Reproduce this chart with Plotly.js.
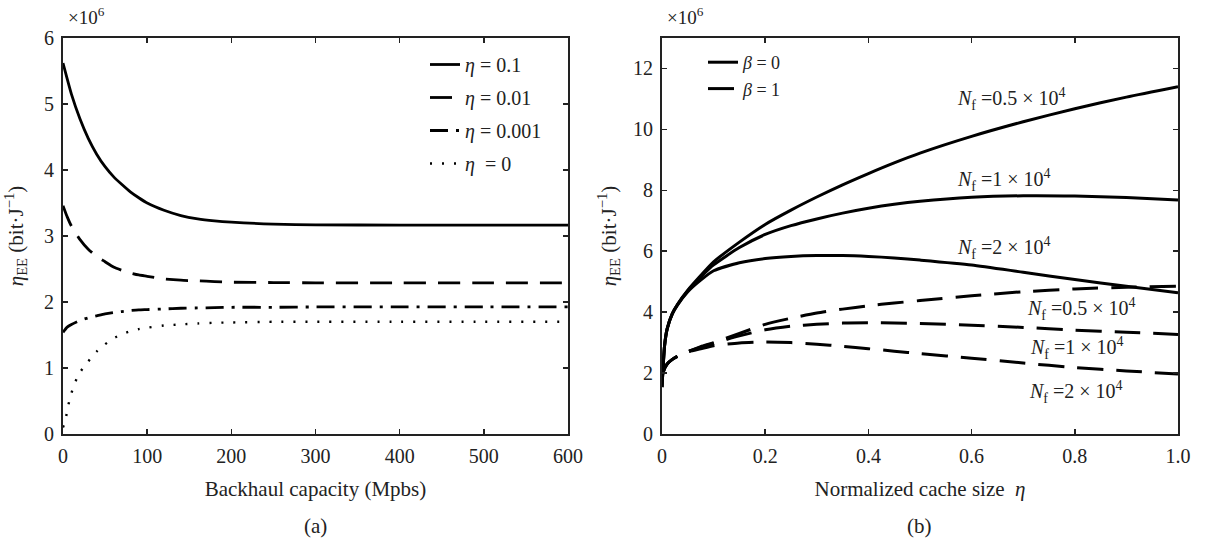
<!DOCTYPE html>
<html>
<head>
<meta charset="utf-8">
<script src="https://cdn.plot.ly/plotly-3.0.1.min.js"></script>
<style>html,body{margin:0;padding:0;background:#fff;}#chart{width:1205px;height:543px;}</style>
</head>
<body>
<div id="chart"></div>
<script>
// ---- Panel (a): energy efficiency vs backhaul capacity ----
const capA = [0, 5, 10, 20, 30, 40, 50, 60, 70, 80, 90, 100, 120, 140, 160, 180, 200, 250, 300, 400, 500, 600];
const eeEta01   = [5.62, 5.38, 5.15, 4.78, 4.48, 4.24, 4.05, 3.90, 3.78, 3.67, 3.58, 3.50, 3.39, 3.31, 3.26, 3.23, 3.21, 3.18, 3.17, 3.165, 3.165, 3.165];
const eeEta001  = [3.46, 3.29, 3.15, 2.95, 2.80, 2.69, 2.61, 2.53, 2.48, 2.44, 2.41, 2.39, 2.35, 2.33, 2.32, 2.31, 2.30, 2.295, 2.29, 2.29, 2.29, 2.29];
const eeEta0001 = [1.54, 1.62, 1.66, 1.72, 1.76, 1.79, 1.82, 1.84, 1.855, 1.87, 1.88, 1.885, 1.895, 1.905, 1.91, 1.915, 1.92, 1.92, 1.925, 1.925, 1.925, 1.925];
const capA0 = [0, 3, 6, 10, 15, 20, 30, 40, 50, 60, 70, 80, 90, 100, 120, 140, 160, 180, 200, 250, 300, 400, 500, 600];
const eeEta0    = [0.10, 0.22, 0.42, 0.62, 0.80, 0.93, 1.10, 1.25, 1.36, 1.45, 1.51, 1.56, 1.59, 1.61, 1.645, 1.66, 1.675, 1.685, 1.69, 1.70, 1.70, 1.70, 1.70, 1.70];
const namesA = ['<i>η</i> = 0.1', '<i>η</i> = 0.01', '<i>η</i> = 0.001', '<i>η</i>  = 0'];
const ticksAx = [0, 100, 200, 300, 400, 500, 600];
const ticksAy = [0, 1, 2, 3, 4, 5, 6];

// ---- Panel (b): energy efficiency vs normalized cache size ----
const cacheB = [0, 0.005, 0.01, 0.02, 0.03, 0.05, 0.075, 0.1, 0.15, 0.2, 0.25, 0.3, 0.35, 0.4, 0.45, 0.5, 0.6, 0.7, 0.8, 0.9, 1.0];
const b0Nf05 = [1.54, 2.9, 3.45, 3.95, 4.25, 4.72, 5.2, 5.65, 6.3, 6.88, 7.35, 7.78, 8.18, 8.55, 8.9, 9.22, 9.77, 10.25, 10.68, 11.06, 11.4];
const b0Nf1  = [1.54, 2.9, 3.45, 3.95, 4.25, 4.7, 5.15, 5.55, 6.12, 6.55, 6.84, 7.06, 7.25, 7.41, 7.54, 7.64, 7.77, 7.82, 7.81, 7.76, 7.68];
const b0Nf2  = [1.54, 2.9, 3.45, 3.94, 4.23, 4.67, 5.05, 5.36, 5.62, 5.76, 5.83, 5.86, 5.86, 5.83, 5.78, 5.71, 5.55, 5.31, 5.07, 4.85, 4.64];
const b1Nf05 = [1.9, 2.15, 2.3, 2.45, 2.55, 2.7, 2.87, 3.0, 3.3, 3.6, 3.8, 3.97, 4.1, 4.21, 4.3, 4.38, 4.54, 4.67, 4.76, 4.82, 4.85];
const b1Nf1  = [1.9, 2.15, 2.3, 2.45, 2.55, 2.7, 2.85, 2.98, 3.22, 3.42, 3.54, 3.6, 3.64, 3.65, 3.645, 3.63, 3.57, 3.5, 3.41, 3.34, 3.27];
const b1Nf2  = [1.9, 2.15, 2.3, 2.45, 2.55, 2.7, 2.8, 2.9, 2.99, 3.02, 3.0, 2.95, 2.88, 2.8, 2.72, 2.64, 2.49, 2.33, 2.18, 2.07, 1.97];
const namesB = ['<i>β</i> = 0', '<i>β</i> = 1'];
const ticksBx = [0, 0.2, 0.4, 0.6, 0.8, 1.0];
const tickTextBx = ['0', '0.2', '0.4', '0.6', '0.8', '1.0'];
const ticksBy = [0, 2, 4, 6, 8, 10, 12];
const nfLabels = ['<i>N</i><sub>f</sub> =0.5 × 10<sup>4</sup>', '<i>N</i><sub>f</sub> =1 × 10<sup>4</sup>', '<i>N</i><sub>f</sub> =2 × 10<sup>4</sup>'];
const nfLabelX = [0.568, 0.568, 0.568, 0.703, 0.71, 0.707];
const nfLabelY = [11.0, 8.33, 6.1, 4.12, 2.83, 1.38];

const INK = '#222';
const FONT = 'Liberation Serif';

function lineTrace(x, y, xa, ya, name, dash, width, legend, show, group) {
  return {x: x, y: y, xaxis: xa, yaxis: ya, name: name, type: 'scatter', mode: 'lines',
    line: {color: '#000', width: width, dash: dash, shape: 'spline', smoothing: 0.6},
    legend: legend, showlegend: show, legendgroup: group, hoverinfo: 'skip'};
}

const traces = [
  lineTrace(capA, eeEta01, 'x', 'y', namesA[0], 'solid', 2.8, 'legend', true, 'a1'),
  lineTrace(capA, eeEta001, 'x', 'y', namesA[1], '22px,12px', 2.8, 'legend', true, 'a2'),
  lineTrace(capA, eeEta0001, 'x', 'y', namesA[2], '18px,8px,3px,8px', 2.8, 'legend', true, 'a3'),
  lineTrace(capA0, eeEta0, 'x', 'y', namesA[3], '2px,10px', 2.4, 'legend', true, 'a4'),
  lineTrace(cacheB, b0Nf05, 'x2', 'y2', namesB[0], 'solid', 3, 'legend2', true, 'b0'),
  lineTrace(cacheB, b0Nf1, 'x2', 'y2', namesB[0], 'solid', 3, 'legend2', false, 'b0'),
  lineTrace(cacheB, b0Nf2, 'x2', 'y2', namesB[0], 'solid', 3, 'legend2', false, 'b0'),
  lineTrace(cacheB, b1Nf05, 'x2', 'y2', namesB[1], '26px,13px', 3, 'legend2', true, 'b1'),
  lineTrace(cacheB, b1Nf1, 'x2', 'y2', namesB[1], '26px,13px', 3, 'legend2', false, 'b1'),
  lineTrace(cacheB, b1Nf2, 'x2', 'y2', namesB[1], '26px,13px', 3, 'legend2', false, 'b1')
];

const W = 1205, H = 543;
const yDom = [(H - 434) / H, (H - 38) / H];

function axisBase() {
  return {ticks: 'inside', ticklen: 5, tickwidth: 1.5, tickcolor: INK,
    showline: true, mirror: 'ticks', linewidth: 2, linecolor: INK,
    showgrid: false, zeroline: false, ticklabelstandoff: 3,
    tickfont: {size: 20, color: INK, family: FONT}};
}

const yTitle = '<i>η</i><sub>EE</sub> (bit·J<sup>−1</sup>)';

const layout = {
  width: W, height: H,
  margin: {l: 0, r: 0, t: 0, b: 0},
  paper_bgcolor: '#fff', plot_bgcolor: '#fff',
  font: {family: FONT, color: INK, size: 20},
  xaxis: Object.assign(axisBase(), {domain: [63 / W, 568 / W], range: [0, 600], tickvals: ticksAx, anchor: 'y',
    title: {text: 'Backhaul capacity (Mpbs)', font: {size: 21, family: FONT, color: INK}, standoff: 15}}),
  yaxis: Object.assign(axisBase(), {domain: yDom, range: [0, 6], tickvals: ticksAy, anchor: 'x',
    title: {text: yTitle, font: {size: 21, family: FONT, color: INK}, standoff: 15}}),
  xaxis2: Object.assign(axisBase(), {domain: [662 / W, 1178 / W], range: [0, 1], tickvals: ticksBx, ticktext: tickTextBx, anchor: 'y2',
    title: {text: 'Normalized cache size  <i>η</i>', font: {size: 21, family: FONT, color: INK}, standoff: 15}}),
  yaxis2: Object.assign(axisBase(), {domain: yDom, range: [0, 13], tickvals: ticksBy, anchor: 'x2',
    title: {text: yTitle, font: {size: 21, family: FONT, color: INK}, standoff: 11}}),
  legend: {x: 425 / W, y: (H - 45) / H, xanchor: 'left', yanchor: 'top', bgcolor: 'rgba(0,0,0,0)',
    borderwidth: 0, font: {size: 20, family: FONT, color: INK}, tracegroupgap: 4},
  legend2: {x: 703 / W, y: (H - 44) / H, xanchor: 'left', yanchor: 'top', bgcolor: 'rgba(0,0,0,0)',
    borderwidth: 0, font: {size: 18, family: FONT, color: INK}, tracegroupgap: 0},
  annotations: [
    {text: '×10<sup>6</sup>', xref: 'paper', yref: 'paper', x: 66 / W, y: (H - 16) / H, xanchor: 'left', yanchor: 'middle', showarrow: false, font: {size: 19, family: FONT, color: INK}},
    {text: '×10<sup>6</sup>', xref: 'paper', yref: 'paper', x: 665 / W, y: (H - 16) / H, xanchor: 'left', yanchor: 'middle', showarrow: false, font: {size: 19, family: FONT, color: INK}},
    {text: '(a)', xref: 'paper', yref: 'paper', x: 315 / W, y: (H - 526) / H, xanchor: 'center', yanchor: 'middle', showarrow: false, font: {size: 21, family: FONT, color: INK}},
    {text: '(b)', xref: 'paper', yref: 'paper', x: 920 / W, y: (H - 526) / H, xanchor: 'center', yanchor: 'middle', showarrow: false, font: {size: 21, family: FONT, color: INK}}
  ]
};

for (let i = 0; i < 6; i++) {
  layout.annotations.push({text: nfLabels[i % 3], xref: 'x2', yref: 'y2', x: nfLabelX[i], y: nfLabelY[i],
    xanchor: 'left', yanchor: 'middle', showarrow: false, font: {size: 20, family: FONT, color: INK}});
}

Plotly.newPlot('chart', traces, layout, {staticPlot: true, displayModeBar: false});
</script>
</body>
</html>
